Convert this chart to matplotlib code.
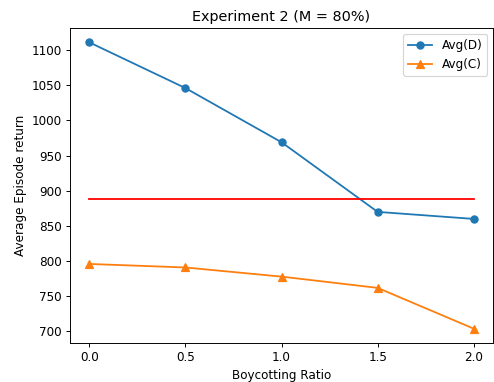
import matplotlib
matplotlib.use("Agg")
import matplotlib.pyplot as plt

x = [0.0, 0.5, 1.0, 1.5, 2.0]
avg_d = [1111, 1046, 969, 870, 860]
avg_c = [796, 791, 778, 762, 704]
baseline = 888

DPI = 86
fig = plt.figure(figsize=(494/DPI, 382/DPI), dpi=DPI)
ax = fig.add_axes([70/494, 1-343/382, (493-70)/494, (343-28)/382])
ax.plot(x, avg_d, marker='o', label='Avg(D)')
ax.plot(x, avg_c, marker='^', label='Avg(C)')
ax.plot([x[0], x[-1]], [baseline, baseline], color='red')
ax.set_title('Experiment 2 (M = 80%)')
ax.set_xlabel('Boycotting Ratio')
ax.set_ylabel('Average Episode return')
ax.set_xticks(x)
ax.set_yticks([700, 750, 800, 850, 900, 950, 1000, 1050, 1100])
ax.legend(loc='upper right')
fig.savefig('out.png', dpi=DPI)
